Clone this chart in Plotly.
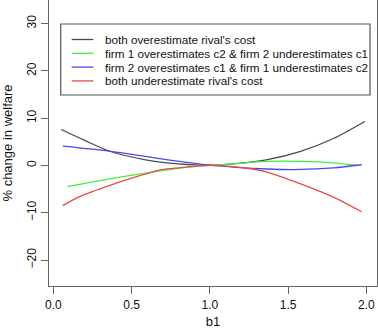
import plotly.graph_objects as go

# Data
names = ["both overestimate rival's cost",
         "firm 1 overestimates c2 & firm 2 underestimates c1",
         "firm 2 overestimates c1 & firm 1 underestimates c2",
         "both underestimate rival's cost"]

black_x = [0.05, 0.2, 0.37, 0.59, 0.8, 1.0, 1.15, 1.36, 1.58, 1.79, 1.99]
black_y = [7.6, 5.3, 2.9, 1.2, 0.35, 0.05, 0.35, 1.2, 3.0, 5.7, 9.3]

green_x = [0.09, 0.37, 0.59, 0.8, 1.0, 1.15, 1.36, 1.58, 1.79, 1.94]
green_y = [-4.5, -2.8, -1.6, -0.6, 0.0, 0.35, 0.85, 0.85, 0.55, 0.0]

blue_x = [0.06, 0.37, 0.69, 1.0, 1.15, 1.36, 1.58, 1.79, 1.97]
blue_y = [4.1, 3.0, 1.4, 0.05, -0.35, -0.75, -0.85, -0.5, 0.15]

red_x = [0.06, 0.16, 0.37, 0.59, 0.69, 0.8, 1.0, 1.15, 1.26, 1.36, 1.58, 1.79, 1.97]
red_y = [-8.5, -6.7, -4.1, -1.8, -0.9, -0.5, 0.0, -0.25, -0.7, -1.35, -3.9, -6.7, -9.8]

x_ticks = [0.0, 0.5, 1.0, 1.5, 2.0]
x_ticklabels = ["0.0", "0.5", "1.0", "1.5", "2.0"]
y_ticks = [-20, -10, 0, 10, 20, 30]

colors = ["#4a4a4a", "#44ee44", "#4848f0", "#f04848"]

W, H = 378, 330
ML, MR, MT, MB = 49, 1, 0, 44
PW, PH = W - ML - MR, H - MT - MB

fig = go.Figure()
for nm, xs, ys, c in zip(names, [black_x, green_x, blue_x, red_x],
                         [black_y, green_y, blue_y, red_y], colors):
    fig.add_trace(go.Scatter(x=xs, y=ys, mode="lines", name=nm, showlegend=False,
                             line=dict(color=c, width=1.3, shape="spline", smoothing=0.8)))

font = "Liberation Sans, Arial, sans-serif"

# manual legend (R-style), positioned in paper coordinates
def px_x(p):
    return (p - ML) / PW

def px_y(p):
    return 1 - (p - MT) / PH

shapes = [dict(type="rect", xref="paper", yref="paper",
               x0=px_x(60.7), x1=px_x(370), y0=px_y(95), y1=px_y(24),
               line=dict(color="#555", width=1.2), fillcolor="white", layer="above")]
annotations = []
row_y = [39.5, 53.3, 67.1, 80.9]
for nm, c, ry in zip(names, colors, row_y):
    shapes.append(dict(type="line", xref="paper", yref="paper",
                       x0=px_x(71.7), x1=px_x(93.3), y0=px_y(ry), y1=px_y(ry),
                       line=dict(color=c, width=1.3), layer="above"))
    annotations.append(dict(xref="paper", yref="paper", x=px_x(103), y=px_y(ry),
                            xanchor="left", yanchor="middle", showarrow=False,
                            text=nm, font=dict(size=11.7, family=font, color="#111")))

fig.update_layout(
    width=W, height=H,
    margin=dict(l=ML, r=MR, t=MT, b=MB),
    paper_bgcolor="white", plot_bgcolor="white",
    font=dict(family=font, size=12, color="#222"),
    showlegend=False,
    shapes=shapes, annotations=annotations,
    xaxis=dict(range=[-0.028, 2.068], tickvals=x_ticks, ticktext=x_ticklabels,
               showgrid=False, zeroline=False, showline=True, linecolor="#666",
               linewidth=1.2, ticks="outside", ticklen=7, tickcolor="#666",
               tickfont=dict(size=12, color="#111"),
               title=dict(text="b1", font=dict(size=13, color="#111"), standoff=6)),
    yaxis=dict(range=[-25.5, 35.0], tickvals=y_ticks, tickangle=-90,
               showgrid=False, zeroline=False, showline=True, mirror=True,
               linecolor="#666", linewidth=1.2, ticks="outside", ticklen=7,
               tickcolor="#666", tickfont=dict(size=12, color="#111"),
               title=dict(text="% change in welfare", font=dict(size=13, color="#111"),
                          standoff=10)),
)
fig.write_html("out.html", config={"displayModeBar": False},
               post_script="document.body.style.margin='0px';document.body.style.overflow='hidden';")
